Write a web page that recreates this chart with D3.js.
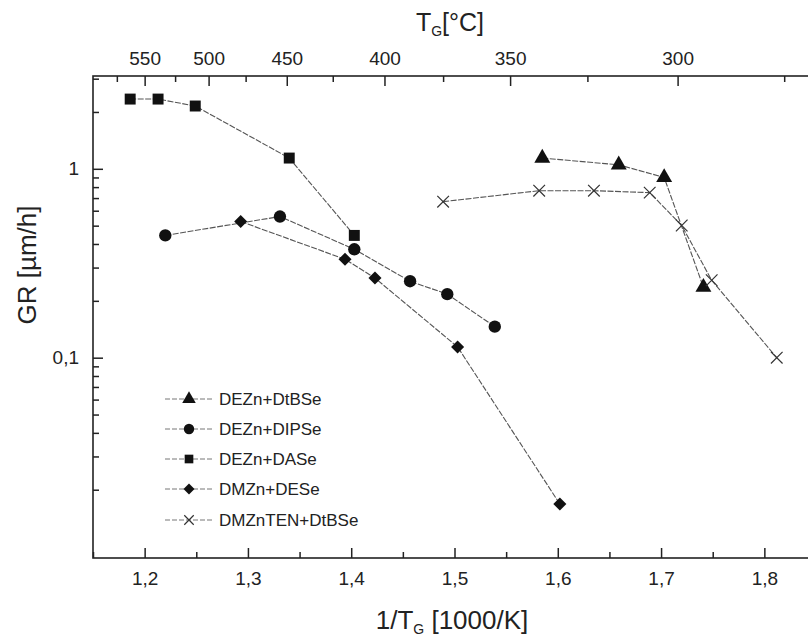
<!DOCTYPE html>
<html><head><meta charset="utf-8">
<script src="https://cdn.jsdelivr.net/npm/d3@7"></script>
<style>body{margin:0;background:#fff}svg{display:block}text{font-family:"Liberation Sans",Arial,sans-serif;fill:#222}</style>
</head><body><svg id="c" width="808" height="642"></svg>
<script>
// ---- data (x = 1/T_G [1000/K], y = GR [µm/h]) ----
const seriesNames = ["DEZn+DtBSe","DEZn+DIPSe","DEZn+DASe","DMZn+DESe","DMZnTEN+DtBSe"];
const dtbseX = [1.585, 1.659, 1.703, 1.741];
const dtbseY = [1.14, 1.05, 0.90, 0.236];
const dipseX = [1.220, 1.331, 1.403, 1.457, 1.493, 1.539];
const dipseY = [0.444, 0.559, 0.375, 0.254, 0.217, 0.146];
const daseX = [1.186, 1.213, 1.249, 1.340, 1.403];
const daseY = [2.34, 2.34, 2.15, 1.14, 0.444];
const deseX = [1.293, 1.394, 1.423, 1.503, 1.602];
const deseY = [0.526, 0.332, 0.264, 0.114, 0.0168];
const tenX = [1.489, 1.582, 1.635, 1.689, 1.720, 1.749, 1.812];
const tenY = [0.670, 0.766, 0.766, 0.748, 0.501, 0.257, 0.100];
const bottomTicks = [1.2, 1.3, 1.4, 1.5, 1.6, 1.7, 1.8];
const bottomMinor = [1.15, 1.25, 1.35, 1.45, 1.55, 1.65, 1.75, 1.85];
const topTicks = [550, 500, 450, 400, 350, 300];
const topMinor = [575, 525, 475, 425, 375, 325, 275];
const leftMajor = [1, 0.1];
const leftMinor = [0.02,0.03,0.04,0.05,0.06,0.07,0.08,0.09,0.2,0.3,0.4,0.5,0.6,0.7,0.8,0.9,2,3];

const svg = d3.select("#c");
const L=93, R=816, T=76, B=558;
const x = d3.scaleLinear().domain([1.15,1.85]).range([L,R]);
const y = d3.scaleLog().domain([0.0087,3.1]).range([B,T]);
const xTop = d3.scaleLinear().domain([1/550,1/300]).range([x(1.2), x(1.716)]);
const fmt = d => String(d).replace('.',',');

// frame
svg.append("rect").attr("x",L).attr("y",T).attr("width",R-L).attr("height",B-T)
  .attr("fill","none").attr("stroke","#222").attr("stroke-width",1.6);

// axes
const gb = svg.append("g").attr("transform",`translate(0,${B})`);
gb.call(d3.axisBottom(x).tickValues(bottomTicks).tickFormat(fmt).tickSizeInner(-10).tickSizeOuter(0).tickPadding(14));
gb.append("g").call(d3.axisBottom(x).tickValues(bottomMinor).tickFormat("").tickSizeInner(-6).tickSizeOuter(0));
const gt = svg.append("g").attr("transform",`translate(0,${T})`);
gt.call(d3.axisTop(xTop).tickValues(topTicks.map(t=>1/t)).tickFormat(d=>Math.round(1/d)).tickSizeInner(-10).tickSizeOuter(0).tickPadding(11));
gt.append("g").call(d3.axisTop(xTop).tickValues(topMinor.map(t=>1/t)).tickFormat("").tickSizeInner(-6).tickSizeOuter(0));
const gl = svg.append("g").attr("transform",`translate(${L},0)`);
gl.call(d3.axisLeft(y).tickValues(leftMajor).tickFormat(fmt).tickSizeInner(-10).tickSizeOuter(0).tickPadding(14));
gl.append("g").call(d3.axisLeft(y).tickValues(leftMinor).tickFormat("").tickSizeInner(-6).tickSizeOuter(0));
svg.selectAll(".domain").remove();
svg.selectAll(".tick line").attr("stroke","#222").attr("stroke-width",1.5);
svg.selectAll(".tick text").attr("font-size",19).attr("fill","#222").style("font-family","Liberation Sans, Arial");

// titles
const tt = svg.append("text").attr("x",450).attr("y",31).attr("text-anchor","middle").attr("font-size",25);
tt.append("tspan").text("T");
tt.append("tspan").attr("font-size",14).attr("dy",5).text("G");
tt.append("tspan").attr("dy",-5).text("[°C]");
const bt = svg.append("text").attr("x",452).attr("y",629).attr("text-anchor","middle").attr("font-size",26);
bt.append("tspan").text("1/T");
bt.append("tspan").attr("font-size",14).attr("dy",5).text("G");
bt.append("tspan").attr("dy",-5).text(" [1000/K]");
svg.append("text").attr("transform","translate(36,265) rotate(-90)").attr("text-anchor","middle")
  .attr("font-size",26).text("GR [µm/h]");

// series
const sym = {
  tri: d3.symbol().type(d3.symbolTriangle).size(110),
  circ: d3.symbol().type(d3.symbolCircle).size(120),
  sq: d3.symbol().type(d3.symbolSquare).size(120),
  dia: d3.symbol().type(d3.symbolSquare).size(85),
  cross: d3.symbol().type(d3.symbolX).size(90)
};
const legSym = {
  tri: d3.symbol().type(d3.symbolTriangle).size(80),
  circ: d3.symbol().type(d3.symbolCircle).size(85),
  sq: d3.symbol().type(d3.symbolSquare).size(75),
  dia: d3.symbol().type(d3.symbolSquare).size(60),
  cross: d3.symbol().type(d3.symbolX).size(60)
};
const series = [
  {xs:dtbseX, ys:dtbseY, s:"tri"},
  {xs:dipseX, ys:dipseY, s:"circ"},
  {xs:daseX, ys:daseY, s:"sq"},
  {xs:deseX, ys:deseY, s:"dia"},
  {xs:tenX, ys:tenY, s:"cross"}
];
const line = d3.line().x(d=>x(d[0])).y(d=>y(d[1]));
function marker(g, kind, px, py, set){
  const p = g.append("path").attr("d", (set||sym)[kind]()).attr("transform",`translate(${px},${py})${kind==="dia"?" rotate(45)":""}`);
  if(kind==="cross") p.attr("fill","none").attr("stroke","#333").attr("stroke-width",1.2);
  else p.attr("fill","#111");
}
series.forEach(sr=>{
  const pts = sr.xs.map((v,i)=>[v, sr.ys[i]]);
  svg.append("path").datum(pts).attr("d",line).attr("fill","none").attr("stroke","#555")
    .attr("stroke-width",1.1).attr("stroke-dasharray","6,1.5");
});
series.forEach(sr=>{
  const g = svg.append("g");
  sr.xs.forEach((v,i)=>marker(g, sr.s, x(v), y(sr.ys[i])));
});

// legend
const legY = [399,429,459,489,520];
seriesNames.forEach((n,i)=>{
  const g = svg.append("g");
  g.append("line").attr("x1",165).attr("x2",212).attr("y1",legY[i]).attr("y2",legY[i]).attr("stroke","#777")
    .attr("stroke-width",1).attr("stroke-dasharray","5,2");
  marker(g, series[i].s, 189, legY[i], legSym);
  g.append("text").attr("x",219).attr("y",legY[i]).attr("dy","0.36em").attr("font-size",17).attr("fill","#333").text(n);
});
</script></body></html>
